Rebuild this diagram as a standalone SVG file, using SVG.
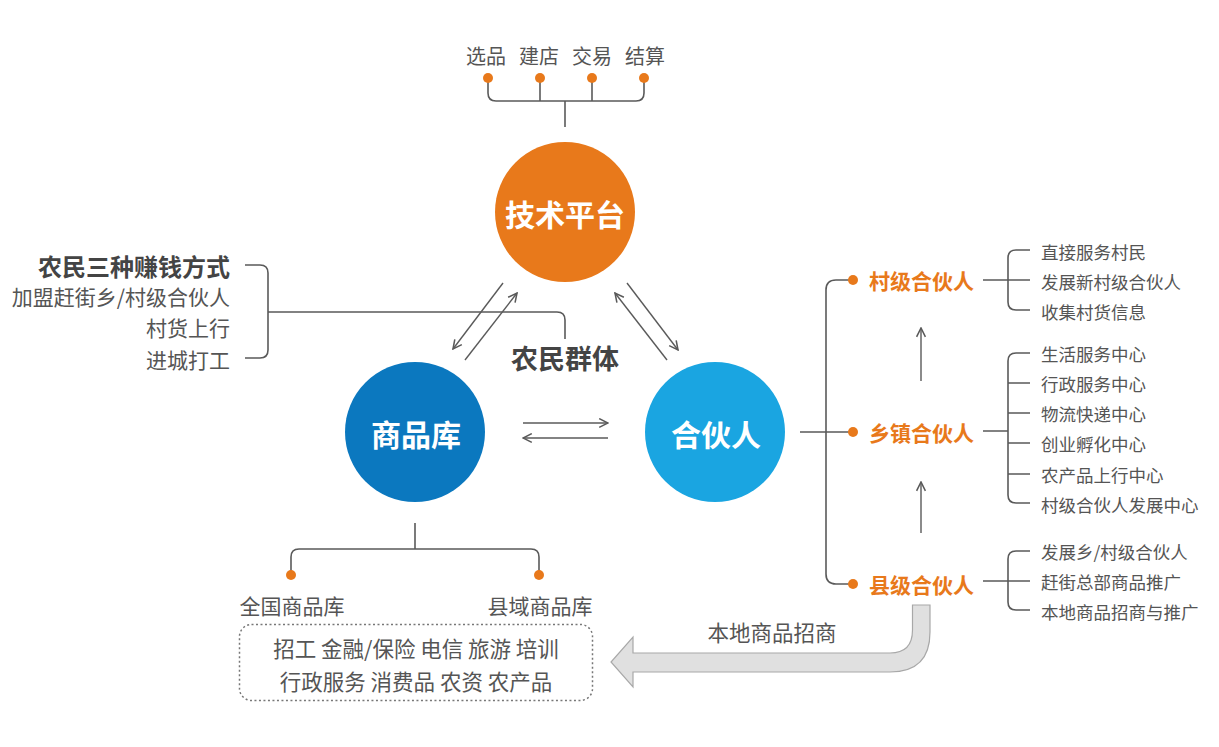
<svg xmlns="http://www.w3.org/2000/svg" width="1219" height="747" viewBox="0 0 1219 747">
<style>
text{font-family:"Noto Sans CJK SC","Noto Sans",sans-serif;fill:#555;dominant-baseline:central}
.ln{fill:none;stroke:#5a5a5a;stroke-width:1.6}
.ar{fill:none;stroke:#5a5a5a;stroke-width:1.4;marker-end:url(#ah)}
.dot{fill:#E8791B}
.t20{font-size:21px}
.top{font-size:20px}
.t17{font-size:17.5px}
.org{font-size:21px;font-weight:bold;fill:#E8791B}
.ctr{font-size:30px;font-weight:bold;fill:#fff;text-anchor:middle}
</style>
<defs>
<marker id="ah" viewBox="0 0 10 10" refX="9" refY="5" markerWidth="11" markerHeight="11" markerUnits="userSpaceOnUse" orient="auto">
<path d="M1,1 L9,5 L1,9" fill="none" stroke="#5a5a5a" stroke-width="1.4"/>
</marker>
</defs>
<g id="connectors">
<path class="ln" d="M488 78 L488 93 Q488 101 496 101 L636 101 Q644 101 644 93 L644 78 M540 78 V101 M592 78 V101 M565 101 V127"/>
<path class="ln" d="M245 265 L260 265 Q268 265 268 273 L268 350 Q268 358 260 358 L245 358 M268 312 L557 312 Q565 312 565 320 L565 339"/>
<path class="ln" d="M415 523 V549 M291 575 V557 Q291 549 299 549 L531 549 Q539 549 539 557 V575"/>
<line class="ar" x1="503" y1="283" x2="453" y2="349"/>
<line class="ar" x1="465" y1="360" x2="517" y2="293"/>
<line class="ar" x1="667" y1="360" x2="615" y2="293"/>
<line class="ar" x1="627" y1="283" x2="678" y2="350"/>
<line class="ar" x1="523" y1="423" x2="608" y2="423"/>
<line class="ar" x1="608" y1="438" x2="523" y2="438"/>
<line class="ar" x1="921" y1="381" x2="921" y2="328"/>
<line class="ar" x1="921" y1="533" x2="921" y2="482"/>
<path class="ln" d="M852 280 L836 280 Q826 280 826 290 L826 574 Q826 584 836 584 L852 584 M800 432 L852 432"/>
<path class="ln" d="M983 280 L1030 280 M1030 250 L1016 250 Q1008 250 1008 258 L1008 302 Q1008 310 1016 310 L1030 310"/>
<path class="ln" d="M983 431 L1008 431 M1030 353 L1016 353 Q1008 353 1008 361 L1008 495 Q1008 503 1016 503 L1030 503 M1008 383 L1030 383 M1008 413 L1030 413 M1008 443 L1030 443 M1008 474 L1030 474"/>
<path class="ln" d="M983 581 L1030 581 M1030 551 L1016 551 Q1008 551 1008 559 L1008 602 Q1008 610 1016 610 L1030 610"/>
<path d="M912.5 605 L930 605 L930 632 Q930 672 890 672 L633 672 L633 687 L611 662 L633 637 L633 653 L890 653 Q912.5 653 912.5 630 Z" fill="#e0e0e0" stroke="#a8a8a8" stroke-width="1.2"/>
</g>
<g id="top-items">
<circle class="dot" cx="488" cy="78" r="5"/><circle class="dot" cx="540" cy="78" r="5"/><circle class="dot" cx="592" cy="78" r="5"/><circle class="dot" cx="644" cy="78" r="5"/>
<text class="top" x="486" y="55" text-anchor="middle">选品</text>
<text class="top" x="539" y="55" text-anchor="middle">建店</text>
<text class="top" x="592" y="55" text-anchor="middle">交易</text>
<text class="top" x="645" y="55" text-anchor="middle">结算</text>
</g>
<g id="node-tech"><circle cx="565" cy="212" r="70" fill="#E8791B"/><text class="ctr" x="565" y="213">技术平台</text></g>
<g id="node-goods"><circle cx="415" cy="432" r="70" fill="#0B78BF"/><text class="ctr" x="416" y="433">商品库</text></g>
<g id="node-partner"><circle cx="715" cy="432" r="70" fill="#1AA5E1"/><text class="ctr" x="716" y="433">合伙人</text></g>
<g id="farmers">
<text x="230" y="265" text-anchor="end" style="font-size:24px;font-weight:bold;fill:#444">农民三种赚钱方式</text>
<text class="t20" x="230" y="296" text-anchor="end">加盟赶街乡/村级合伙人</text>
<text class="t20" x="230" y="327" text-anchor="end">村货上行</text>
<text class="t20" x="230" y="359" text-anchor="end">进城打工</text>
<text x="565" y="357" text-anchor="middle" style="font-size:27px;font-weight:bold;fill:#444">农民群体</text>
</g>
<g id="goods-items">
<circle class="dot" cx="291" cy="575" r="5"/><circle class="dot" cx="539" cy="575" r="5"/>
<text class="t20" x="292" y="605" text-anchor="middle">全国商品库</text>
<text class="t20" x="540" y="605" text-anchor="middle">县域商品库</text>
<rect x="239.5" y="624.5" width="353" height="76" rx="12" fill="none" stroke="#777" stroke-width="1.5" stroke-dasharray="2 2.5"/>
<text x="416" y="647" text-anchor="middle" style="font-size:21.5px">招工 金融/保险 电信 旅游 培训</text>
<text x="416" y="680" text-anchor="middle" style="font-size:21.5px">行政服务 消费品 农资 农产品</text>
</g>
<g id="village">
<circle class="dot" cx="853" cy="280" r="5"/>
<text class="org" x="869" y="280">村级合伙人</text>
<text class="t17" x="1041" y="251">直接服务村民</text>
<text class="t17" x="1041" y="281">发展新村级合伙人</text>
<text class="t17" x="1041" y="311">收集村货信息</text>
</g>
<g id="town">
<circle class="dot" cx="853" cy="432" r="5"/>
<text class="org" x="869" y="432">乡镇合伙人</text>
<text class="t17" x="1041" y="353">生活服务中心</text>
<text class="t17" x="1041" y="383">行政服务中心</text>
<text class="t17" x="1041" y="413">物流快递中心</text>
<text class="t17" x="1041" y="443">创业孵化中心</text>
<text class="t17" x="1041" y="474">农产品上行中心</text>
<text class="t17" x="1041" y="504">村级合伙人发展中心</text>
</g>
<g id="county">
<circle class="dot" cx="853" cy="584" r="5"/>
<text class="org" x="869" y="584">县级合伙人</text>
<text class="t17" x="1041" y="551">发展乡/村级合伙人</text>
<text class="t17" x="1041" y="581">赶街总部商品推广</text>
<text class="t17" x="1041" y="611">本地商品招商与推广</text>
<text x="772" y="631" text-anchor="middle" style="font-size:21.5px">本地商品招商</text>
</g>
</svg>
